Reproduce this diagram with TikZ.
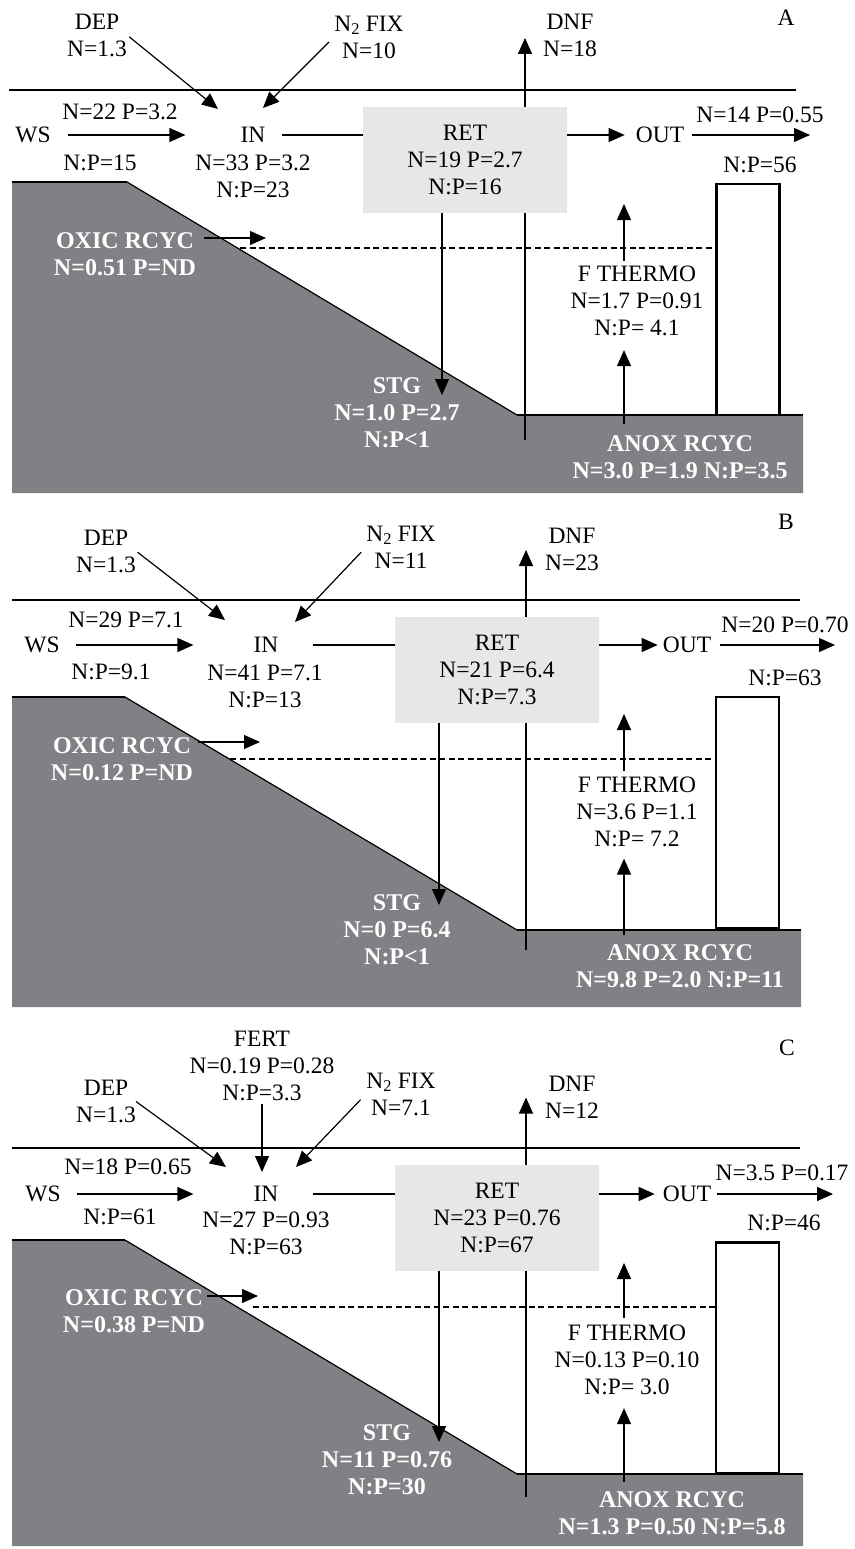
\documentclass[tikz,border=0pt]{standalone}
\usepackage{fontspec}
\setmainfont{Liberation Serif}
\usetikzlibrary{arrows.meta}
\definecolor{soilgray}{RGB}{128,129,133}
\definecolor{retgray}{RGB}{230,231,232}
\tikzset{
	every node/.style={font=\fontsize{23.5}{27}\selectfont, inner sep=0pt, align=center},
	flow/.style={-{Triangle[length=16pt,width=14pt]}, line width=1.2pt},
	link/.style={line width=1.2pt},
	heavy/.style={line width=2.6pt},
	soil/.style={fill=soilgray},
	soiltxt/.style={text=white, font=\fontsize{24}{27}\selectfont\bfseries},
	retbox/.style={fill=retgray, minimum width=204pt, minimum height=106pt},
	tank/.style={draw, line width=2.6pt, minimum width=63pt, minimum height=231pt},
	layer/.style={dashed, dash pattern=on 6pt off 3.5pt}
}

\begin{document}
\begin{tikzpicture}[x=1pt,y=-1pt]
			\useasboundingbox (0,0) rectangle (854,1549);
			% A
			\fill[soil] (12,182) -- (127,182) -- (517,415) -- (803,415) -- (803,493) -- (12,493) -- cycle;
			\draw[heavy] (12,182) -- (127,182);
			\draw[link] (127,182) -- (517,415);
			\draw[heavy] (517,415) -- (803,415);
			\draw[link] (9,90) -- (796,90);
			\coordinate (A-dnfb) at (525,440);
			\coordinate (A-dept) at (218,109);
			\coordinate (A-fixt) at (263,108);
			\coordinate (A-stgt) at (442,395);
			\coordinate (A-oxt) at (266,238);
			\coordinate (A-dash) at (240,248);
			\coordinate (A-up) at (624,204);
			\coordinate (A-anoxt) at (624,424);
			\coordinate (A-exit) at (810,135);
			\node (A-lbl) at (786,18) {A};
			\node (A-dep) at (97,35) {DEP\\N=1.3};
			\node (A-fix) at (369,37) {N\textsubscript{2} FIX\\N=10};
			\node (A-dnf) at (570,35) {DNF\\N=18};
			\node (A-ws) at (33,135) {WS};
			\node (A-wsn) at (120,112) {N=22 P=3.2};
			\node (A-wsr) at (100,163) {N:P=15};
			\node (A-in) at (253,135) {IN};
			\node (A-inn) at (253,176.5) {N=33 P=3.2\\N:P=23};
			\draw[flow, shorten >=3pt] (A-dnfb) -- (A-dnfb |- A-dnf);
			\node[retbox] (A-ret) at (465,160) {RET\\N=19 P=2.7\\N:P=16};
			\node (A-out) at (660,135) {OUT};
			\node (A-outn) at (760,115) {N=14 P=0.55};
			\node (A-outr) at (760,165) {N:P=56};
			\node[tank] (A-tank) at (748,299.5) {};
			\node[soiltxt] (A-oxic) at (125,254.5) {OXIC RCYC\\N=0.51 P=ND};
			\node[soiltxt] (A-stg) at (397,413) {STG\\N=1.0 P=2.7\\N:P<1};
			\node (A-thermo) at (637,301) {F THERMO\\N=1.7 P=0.91\\N:P= 4.1};
			\node[soiltxt] (A-anox) at (680,457.5) {ANOX RCYC\\N=3.0 P=1.9 N:P=3.5};
			\path[flow]
			(A-dep.east) edge[shorten <=3pt] (A-dept)
			(A-fix.west) edge[shorten <=7pt] (A-fixt)
			(A-ws.east) edge[shorten <=17pt, shorten >=55pt] (A-ws.east -| A-in.west)
			(A-ret.east |- A-out) edge[shorten >=11pt] (A-out.west)
			(A-out.east) edge[shorten <=8pt] (A-exit)
			(A-ret.south -| A-stgt) edge (A-stgt)
			(A-oxic.east |- A-oxt) edge[shorten <=8pt] (A-oxt)
			(A-up |- A-thermo.north) edge[shorten <=5pt] (A-up)
			(A-anoxt) edge[shorten >=14pt] (A-thermo.south -| A-anoxt);
			\path[link]
			(A-in.east) edge[shorten <=16pt] (A-ret.west |- A-in)
			(A-dash) edge[layer] (A-dash -| A-tank.west);
			% B
			\fill[soil] (12,697) -- (125,697) -- (517,930) -- (801,930) -- (801,1007) -- (12,1007) -- cycle;
			\draw[heavy] (12,697) -- (125,697);
			\draw[link] (125,697) -- (517,930);
			\draw[heavy] (517,930) -- (801,930);
			\draw[link] (12,600) -- (800,600);
			\coordinate (B-dnfb) at (526,950);
			\coordinate (B-dept) at (225,620);
			\coordinate (B-fixt) at (295,622);
			\coordinate (B-stgt) at (439,905);
			\coordinate (B-oxt) at (260,742);
			\coordinate (B-dash) at (230,759);
			\coordinate (B-up) at (624,714);
			\coordinate (B-anoxt) at (624,935);
			\coordinate (B-exit) at (835,645);
			\node (B-lbl) at (786,522) {B};
			\node (B-dep) at (106,551) {DEP\\N=1.3};
			\node (B-fix) at (401,547) {N\textsubscript{2} FIX\\N=11};
			\node (B-dnf) at (572,549) {DNF\\N=23};
			\node (B-ws) at (42,645) {WS};
			\node (B-wsn) at (126,620) {N=29 P=7.1};
			\node (B-wsr) at (111,672) {N:P=9.1};
			\node (B-in) at (266,645) {IN};
			\node (B-inn) at (265,686) {N=41 P=7.1\\N:P=13};
			\draw[flow, shorten >=1pt] (B-dnfb) -- (B-dnfb |- B-dnf);
			\node[retbox] (B-ret) at (497,670) {RET\\N=21 P=6.4\\N:P=7.3};
			\node (B-out) at (687,645) {OUT};
			\node (B-outn) at (785,625) {N=20 P=0.70};
			\node (B-outr) at (785,678) {N:P=63};
			\node[tank] (B-tank) at (747.5,812.5) {};
			\node[soiltxt] (B-oxic) at (122,759.5) {OXIC RCYC\\N=0.12 P=ND};
			\node[soiltxt] (B-stg) at (397,930) {STG\\N=0 P=6.4\\N:P<1};
			\node (B-thermo) at (637,811.5) {F THERMO\\N=3.6 P=1.1\\N:P= 7.2};
			\node[soiltxt] (B-anox) at (680,966) {ANOX RCYC\\N=9.8 P=2.0 N:P=11};
			\path[flow]
			(B-dep.east) edge[shorten <=2pt] (B-dept)
			(B-fix.west) edge[shorten <=7pt] (B-fixt)
			(B-ws.east) edge[shorten <=16pt, shorten >=60pt] (B-ws.east -| B-in.west)
			(B-ret.east |- B-out) edge[shorten >=5pt] (B-out.west)
			(B-out.east) edge[shorten <=9pt] (B-exit)
			(B-ret.south -| B-stgt) edge (B-stgt)
			(B-oxic.east |- B-oxt) edge[shorten <=5pt] (B-oxt)
			(B-up |- B-thermo.north) edge[shorten <=5pt] (B-up)
			(B-anoxt) edge[shorten >=12pt] (B-thermo.south -| B-anoxt);
			\path[link]
			(B-in.east) edge[shorten <=34pt] (B-ret.west |- B-in)
			(B-dash) edge[layer] (B-dash -| B-tank.west);
			% C
			\fill[soil] (12,1240) -- (125,1240) -- (517,1474) -- (803,1474) -- (803,1546) -- (12,1546) -- cycle;
			\draw[heavy] (12,1240) -- (125,1240);
			\draw[link] (125,1240) -- (517,1474);
			\draw[heavy] (517,1474) -- (803,1474);
			\draw[link] (12,1148) -- (800,1148);
			\coordinate (C-dnfb) at (526,1497);
			\coordinate (C-dept) at (226,1167);
			\coordinate (C-fixt) at (296,1167);
			\coordinate (C-fertt) at (262,1172);
			\coordinate (C-stgt) at (439,1442);
			\coordinate (C-oxt) at (258,1296);
			\coordinate (C-dash) at (253,1307);
			\coordinate (C-up) at (624,1263);
			\coordinate (C-anoxt) at (624,1482);
			\coordinate (C-exit) at (833,1194);
			\node (C-lbl) at (787,1048) {C};
			\node (C-fert) at (262,1066) {FERT\\N=0.19 P=0.28\\N:P=3.3};
			\node (C-dep) at (106,1101.5) {DEP\\N=1.3};
			\node (C-fix) at (401,1094) {N\textsubscript{2} FIX\\N=7.1};
			\node (C-dnf) at (572,1097.5) {DNF\\N=12};
			\node (C-ws) at (43,1194) {WS};
			\node (C-wsn) at (128,1167) {N=18 P=0.65};
			\node (C-wsr) at (120,1217) {N:P=61};
			\node (C-in) at (266,1194) {IN};
			\node (C-inn) at (266,1233) {N=27 P=0.93\\N:P=63};
			\draw[flow] (C-dnfb) -- (C-dnfb |- C-dnf);
			\node[retbox] (C-ret) at (497,1218) {RET\\N=23 P=0.76\\N:P=67};
			\node (C-out) at (687,1194) {OUT};
			\node (C-outn) at (782,1173) {N=3.5 P=0.17};
			\node (C-outr) at (784,1223) {N:P=46};
			\node[tank] (C-tank) at (747.5,1358) {};
			\node[soiltxt] (C-oxic) at (134,1311) {OXIC RCYC\\N=0.38 P=ND};
			\node[soiltxt] (C-stg) at (387,1460) {STG\\N=11 P=0.76\\N:P=30};
			\node (C-thermo) at (627,1360) {F THERMO\\N=0.13 P=0.10\\N:P= 3.0};
			\node[soiltxt] (C-anox) at (672,1513.5) {ANOX RCYC\\N=1.3 P=0.50 N:P=5.8};
			\path[flow]
			(C-fert.south) edge[shorten <=3pt] (C-fertt)
			(C-dep.east) edge (C-dept)
			(C-fix.west) edge[shorten <=8pt] (C-fixt)
			(C-ws.east) edge[shorten <=16pt, shorten >=60pt] (C-ws.east -| C-in.west)
			(C-ret.east |- C-out) edge[shorten >=8pt] (C-out.west)
			(C-out.east) edge[shorten <=6pt] (C-exit)
			(C-ret.south -| C-stgt) edge (C-stgt)
			(C-oxic.east |- C-oxt) edge[shorten <=2pt] (C-oxt)
			(C-up |- C-thermo.north) edge[shorten <=7pt] (C-up)
			(C-anoxt) edge[shorten >=13pt] (C-thermo.south -| C-anoxt);
			\path[link]
			(C-in.east) edge[shorten <=34pt] (C-ret.west |- C-in)
			(C-dash) edge[layer] (C-dash -| C-tank.west);
		\end{tikzpicture}
\end{document}
